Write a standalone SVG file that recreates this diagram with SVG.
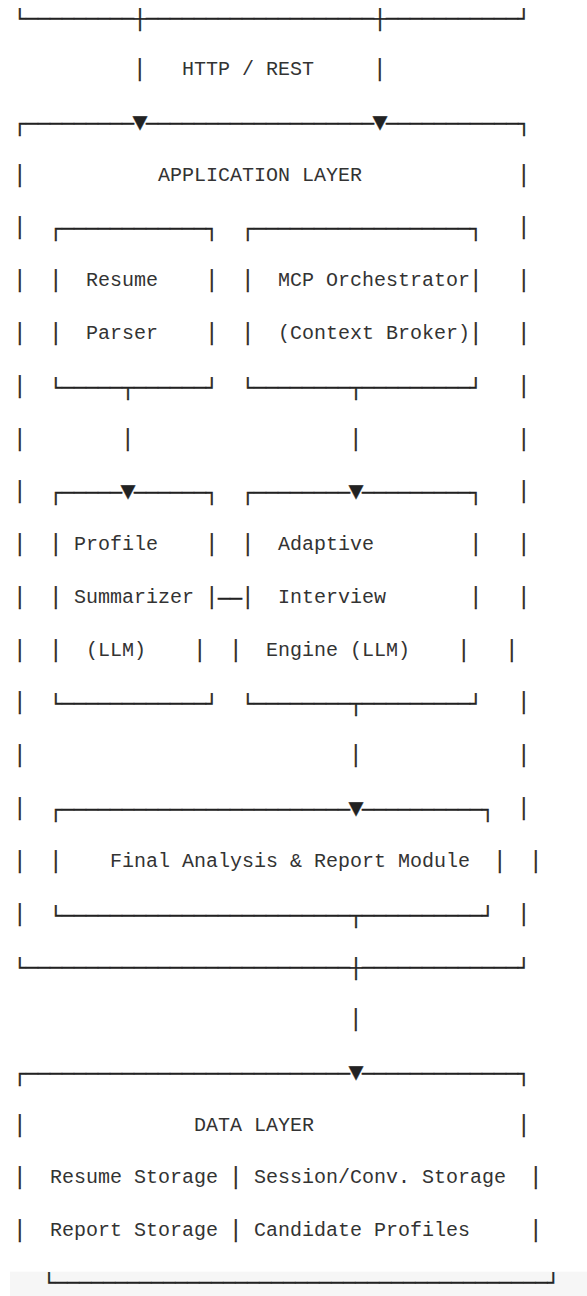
<svg xmlns="http://www.w3.org/2000/svg" width="587" height="1296" viewBox="0 0 587 1296">
<style>
.t { font-family: "Liberation Mono", "Courier New", monospace; font-size: 20px; fill: #333333; white-space: pre; }
.b { font-family: "Liberation Mono", "Courier New", monospace; font-size: 20px; fill: #222222; stroke: #222222; stroke-width: 0.5; white-space: pre; }
.a { font-size: 25px; stroke-width: 0.3; }
</style>
<rect x="0" y="0" width="587" height="1296" fill="#ffffff"/>
<rect x="10" y="1271.7" width="577" height="24.3" fill="#f6f6f6"/>

<g id="client-layer">
  <text class="b" x="14" y="24.5">└─────────┼───────────────────┼───────────┘</text>
</g>

<g id="connectors">
  <text class="b" x="134" y="75">│</text>
  <text class="t" x="182" y="75">HTTP / REST</text>
  <text class="b" x="374" y="75">│</text>
  <text class="b" x="122" y="444.5">│</text>
  <text class="b" x="350" y="444.5">│</text>
  <text class="b" x="218" y="604.8">──</text>
  <text class="b" x="350" y="761.1">│</text>
  <text class="b" x="350" y="1025">│</text>
</g>

<g id="application-layer">
  <text class="b" x="14" y="129.8">┌─────────<tspan class="a" dx="-1.5">▼</tspan><tspan dx="-1.5">───────────────────</tspan><tspan class="a" dx="-1.5">▼</tspan><tspan dx="-1.5">───────────┐</tspan></text>
  <text class="b" x="14" y="180.6">│</text>
  <text class="t" x="158" y="180.6">APPLICATION LAYER</text>
  <text class="b" x="518" y="180.6">│</text>
  <text class="b" x="14" y="233.3">│</text><text class="b" x="518" y="233.3">│</text>
  <text class="b" x="14" y="286.1">│</text><text class="b" x="518" y="286.1">│</text>
  <text class="b" x="14" y="338.9">│</text><text class="b" x="518" y="338.9">│</text>
  <text class="b" x="14" y="391.7">│</text><text class="b" x="518" y="391.7">│</text>
  <text class="b" x="14" y="444.5">│</text><text class="b" x="518" y="444.5">│</text>
  <text class="b" x="14" y="497.2">│</text><text class="b" x="518" y="497.2">│</text>
  <text class="b" x="14" y="550">│</text><text class="b" x="518" y="550">│</text>
  <text class="b" x="14" y="602.8">│</text><text class="b" x="518" y="602.8">│</text>
  <text class="b" x="14" y="655.6">│</text><text class="b" x="506" y="655.6">│</text>
  <text class="b" x="14" y="708.4">│</text><text class="b" x="518" y="708.4">│</text>
  <text class="b" x="14" y="761.1">│</text><text class="b" x="518" y="761.1">│</text>
  <text class="b" x="14" y="813.9">│</text><text class="b" x="518" y="813.9">│</text>
  <text class="b" x="14" y="866.7">│</text><text class="b" x="530" y="866.7">│</text>
  <text class="b" x="14" y="919.5">│</text><text class="b" x="518" y="919.5">│</text>
  <text class="b" x="14" y="974.3">└───────────────────────────┼─────────────┘</text>
</g>

<g id="resume-parser">
  <text class="b" x="50" y="235.3">┌────────────┐</text>
  <text class="b" x="50" y="286.1">│</text><text class="t" x="86" y="286.1">Resume</text><text class="b" x="206" y="286.1">│</text>
  <text class="b" x="50" y="338.9">│</text><text class="t" x="86" y="338.9">Parser</text><text class="b" x="206" y="338.9">│</text>
  <text class="b" x="50" y="393.7">└─────┬──────┘</text>
</g>

<g id="mcp-orchestrator">
  <text class="b" x="242" y="235.3">┌──────────────────┐</text>
  <text class="b" x="242" y="286.1">│</text><text class="t" x="278" y="286.1">MCP Orchestrator</text><text class="b" x="470" y="286.1">│</text>
  <text class="b" x="242" y="338.9">│</text><text class="t" x="278" y="338.9">(Context Broker)</text><text class="b" x="470" y="338.9">│</text>
  <text class="b" x="242" y="393.7">└────────┬─────────┘</text>
</g>

<g id="profile-summarizer">
  <text class="b" x="50" y="499.2">┌─────<tspan class="a" dx="-1.5">▼</tspan><tspan dx="-1.5">──────┐</tspan></text>
  <text class="b" x="50" y="550">│</text><text class="t" x="74" y="550">Profile</text><text class="b" x="206" y="550">│</text>
  <text class="b" x="50" y="602.8">│</text><text class="t" x="74" y="602.8">Summarizer</text><text class="b" x="206" y="602.8">│</text>
  <text class="b" x="50" y="655.6">│</text><text class="t" x="86" y="655.6">(LLM)</text><text class="b" x="194" y="655.6">│</text>
  <text class="b" x="50" y="710.4">└────────────┘</text>
</g>

<g id="adaptive-interview-engine">
  <text class="b" x="242" y="499.2">┌────────<tspan class="a" dx="-1.5">▼</tspan><tspan dx="-1.5">─────────┐</tspan></text>
  <text class="b" x="242" y="550">│</text><text class="t" x="278" y="550">Adaptive</text><text class="b" x="470" y="550">│</text>
  <text class="b" x="242" y="602.8">│</text><text class="t" x="278" y="602.8">Interview</text><text class="b" x="470" y="602.8">│</text>
  <text class="b" x="230" y="655.6">│</text><text class="t" x="266" y="655.6">Engine (LLM)</text><text class="b" x="458" y="655.6">│</text>
  <text class="b" x="242" y="710.4">└────────┬─────────┘</text>
</g>

<g id="final-analysis">
  <text class="b" x="50" y="815.9">┌────────────────────────<tspan class="a" dx="-1.5">▼</tspan><tspan dx="-1.5">──────────┐</tspan></text>
  <text class="b" x="50" y="866.7">│</text><text class="t" x="110" y="866.7">Final Analysis &amp; Report Module</text><text class="b" x="494" y="866.7">│</text>
  <text class="b" x="50" y="921.5">└────────────────────────┬──────────┘</text>
</g>

<g id="data-layer">
  <text class="b" x="14" y="1079.8">┌───────────────────────────<tspan class="a" dx="-1.5">▼</tspan><tspan dx="-1.5">─────────────┐</tspan></text>
  <text class="b" x="14" y="1130.6">│</text><text class="t" x="194" y="1130.6">DATA LAYER</text><text class="b" x="518" y="1130.6">│</text>
  <text class="b" x="14" y="1183.4">│</text><text class="t" x="50" y="1183.4">Resume Storage</text><text class="b" x="230" y="1183.4">│</text><text class="t" x="254" y="1183.4">Session/Conv. Storage</text><text class="b" x="530" y="1183.4">│</text>
  <text class="b" x="14" y="1236.2">│</text><text class="t" x="50" y="1236.2">Report Storage</text><text class="b" x="230" y="1236.2">│</text><text class="t" x="254" y="1236.2">Candidate Profiles</text><text class="b" x="530" y="1236.2">│</text>
  <text class="b" x="43.3" y="1288.9">└─────────────────────────────────────────┘</text>
</g>
</svg>
